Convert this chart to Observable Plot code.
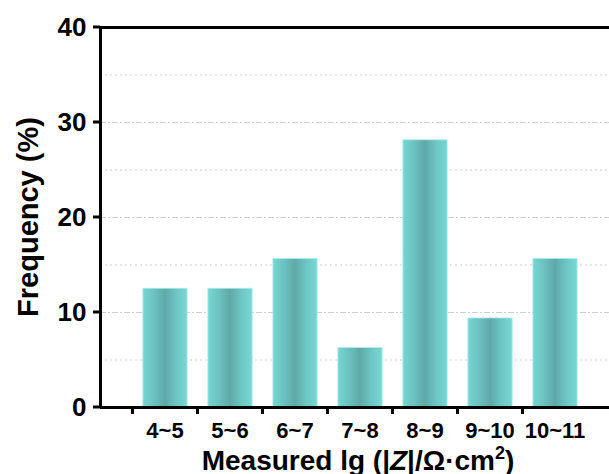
<!DOCTYPE html>
<html><head><meta charset="utf-8">
<script src="https://cdn.jsdelivr.net/npm/d3@7"></script>
<script src="https://cdn.jsdelivr.net/npm/@observablehq/plot@0.6"></script>
<style>body{margin:0;overflow:hidden;background:#fff}#chart{width:609px;height:474px;overflow:hidden}#chart svg{max-width:none!important}</style>
</head><body><div id="chart"></div>
<script>
const categories = ["4~5","5~6","6~7","7~8","8~9","9~10","10~11"];
const frequency = [12.5, 12.5, 15.625, 6.25, 28.125, 9.375, 15.625];
const majorTicks = [0, 10, 20, 30, 40];
const minorGrid = [5, 15, 25, 35];
const majorGrid = [10, 20, 30];

const data = categories.map((c, i) => ({cat: c, i, value: frequency[i]}));
const boundaries = d3.range(categories.length).map(i => i - 0.5);
const font = "Liberation Sans, Arial, sans-serif";

const gradient = () => {
  const defs = d3.create("svg:defs");
  const g = defs.append("linearGradient").attr("id", "barfill").attr("x1", 0).attr("x2", 1).attr("y1", 0).attr("y2", 0);
  [[0, "#76d6d2"], [0.25, "#6cc2c0"], [0.5, "#60a8a8"], [0.75, "#6cc6c4"], [1, "#78d8d4"]]
    .forEach(([o, c]) => g.append("stop").attr("offset", o).attr("stop-color", c));
  return defs.node();
};

const chart = Plot.plot({
  width: 620, height: 474,
  marginLeft: 100, marginRight: 0, marginTop: 27, marginBottom: 67,
  style: {fontFamily: font, background: "white", maxWidth: "none"},
  x: {type: "linear", domain: [-1, 7], axis: null},
  y: {type: "linear", domain: [0, 40], axis: null},
  marks: [
    gradient,
    Plot.ruleY(minorGrid, {y: d => d, stroke: "#cfcfcf", strokeDasharray: "2,3"}),
    Plot.ruleY(majorGrid, {y: d => d, stroke: "#cfcfcf", strokeDasharray: "6,2,2,2"}),
    Plot.rectY(data, {x1: d => d.i - 0.34, x2: d => d.i + 0.34, y1: 0, y2: "value", fill: "url(#barfill)", stroke: "#a8ecea", strokeWidth: 0.8}),
    Plot.ruleY([0, 40], {y: d => d, stroke: "black", strokeWidth: 3}),
    Plot.ruleX([-1], {x: d => d, stroke: "black", strokeWidth: 3}),
    Plot.text(majorTicks, {x: () => -1, y: d => d, text: d => String(d), dx: -14, textAnchor: "end", fontSize: 26, fontWeight: "bold", fill: "black"})
  ]
});

const svg = d3.select(chart);
const xs = chart.scale("x"), ys = chart.scale("y");
const axisG = svg.append("g").attr("stroke", "black").attr("stroke-width", 3);
boundaries.forEach(b => axisG.append("line").attr("x1", xs.apply(b)).attr("x2", xs.apply(b)).attr("y1", ys.apply(0)).attr("y2", ys.apply(0) + 7));
majorTicks.forEach(t => axisG.append("line").attr("x1", xs.apply(-1) - 7).attr("x2", xs.apply(-1)).attr("y1", ys.apply(t)).attr("y2", ys.apply(t)));

svg.append("g").selectAll("text").data(categories).join("text")
  .attr("x", (d, i) => xs.apply(i)).attr("y", ys.apply(0) + 31)
  .attr("text-anchor", "middle").attr("font-size", 22).attr("font-weight", "bold")
  .attr("font-family", font).attr("fill", "black").text(d => d);

svg.append("text").attr("x", 358).attr("y", 470).attr("text-anchor", "middle")
  .attr("font-size", 28).attr("font-weight", "bold").attr("font-family", font)
  .html('Measured lg (|<tspan font-style="italic">Z</tspan>|/Ω·cm<tspan dy="-11" font-size="18">2</tspan><tspan dy="11">)</tspan>');
svg.append("text").attr("transform", "translate(38,217) rotate(-90)").attr("text-anchor", "middle")
  .attr("font-size", 29).attr("font-weight", "bold").attr("font-family", font).text("Frequency (%)");

document.getElementById("chart").append(chart);
</script></body></html>
